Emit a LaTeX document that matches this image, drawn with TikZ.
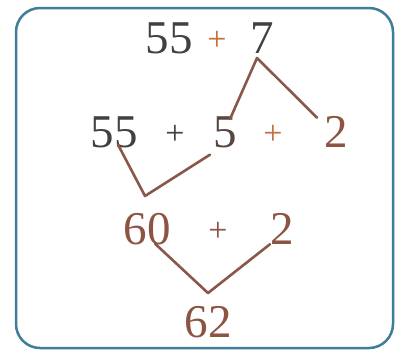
\documentclass[tikz,border=0pt]{standalone}
\usepackage{fontspec}
\setmainfont{Liberation Serif}
\begin{document}
\begin{tikzpicture}[x=1pt,y=-1pt,
  num/.style={inner sep=0pt,anchor=base,font=\fontsize{47}{47}\selectfont},
  plus/.style={inner sep=0pt,anchor=base,font=\fontsize{34}{34}\selectfont},
  link/.style={draw=lnk,line width=2.6pt,line cap=round,line join=round}]
\definecolor{dk}{HTML}{444040}
\definecolor{br}{HTML}{8C5442}
\definecolor{og}{HTML}{C4703E}
\definecolor{lnk}{HTML}{8A5848}
\definecolor{frame}{HTML}{3F7E98}
\useasboundingbox (0,0) rectangle (398,354);
\fill[white] (0,0) rectangle (398,354);
\draw[frame,line width=2.5pt,rounded corners=24pt,fill=white] (16,8) rectangle (393,348);
% row 1
\node[num,text=dk] (a55) at (169,53) {55};
\node[plus,text=og] (ap) at (217,50) {+};
\node[num,text=dk] (a7) at (262,53) {7};
% row 2
\node[num,text=dk] (b55) at (114,147) {55};
\node[plus,text=dk] (bp1) at (175,144) {+};
\node[num,text=dk!70!br] (b5) at (225,147) {5};
\node[plus,text=og] (bp2) at (273,144) {+};
\node[num,text=br] (b2) at (336,147) {2};
% row 3
\node[num,text=br] (c60) at (147,244) {60};
\node[plus,text=br] (cp) at (218,241) {+};
\node[num,text=br] (c2) at (282,244) {2};
% row 4
\node[num,text=br] (d62) at (208,337) {62};
% connectors
\coordinate (v1) at (257,58);
\coordinate (v2) at (145,196);
\coordinate (v3) at (208,293);
\draw[link] (b5.north) ++(5,3) coordinate (e1) -- (v1) -- ([xshift=-19pt,yshift=-2pt]b2.north) coordinate (e2);
\draw[link] ([xshift=4pt,yshift=3pt]b55.south) coordinate (e3) -- (v2) -- ([xshift=-15pt,yshift=-7pt]b5.south) coordinate (e4);
\draw[link] ([xshift=8pt,yshift=1pt]c60.south) coordinate (e5) -- (v3) -- ([xshift=-12pt,yshift=0pt]c2.south) coordinate (e6);
\end{tikzpicture}
\end{document}
